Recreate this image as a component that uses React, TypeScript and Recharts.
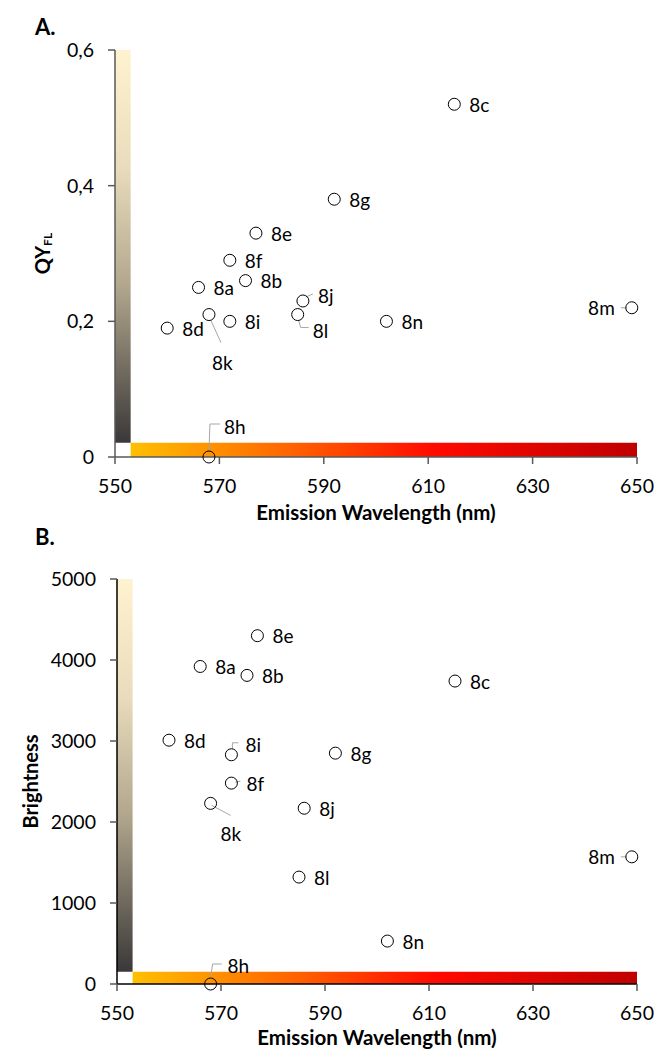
import React from "react";
import {
  ScatterChart,
  Scatter,
  XAxis,
  YAxis,
  ReferenceArea,
  Label,
} from "recharts";

// compounds, same order in both panels
const NAMES = ["8a", "8b", "8c", "8d", "8e", "8f", "8g", "8h", "8i", "8j", "8k", "8l", "8m", "8n"];
const WAVELENGTH = [566, 575, 615, 560, 577, 572, 592, 568, 572, 586, 568, 585, 649, 602];
const QY = [0.25, 0.26, 0.52, 0.19, 0.33, 0.29, 0.38, 0, 0.2, 0.23, 0.21, 0.21, 0.22, 0.2];
const BRIGHTNESS = [3920, 3810, 3740, 3010, 4300, 2480, 2850, 0, 2830, 2170, 2230, 1320, 1570, 530];

const X_TICKS = [550, 570, 590, 610, 630, 650];
const QY_TICKS = [0, 0.2, 0.4, 0.6];
const BRIGHT_TICKS = [0, 1000, 2000, 3000, 4000, 5000];

const FONT = "Lato, 'Open Sans', sans-serif";
const AXIS_COLOR = "#595959";
const LEADER_COLOR = "#a6a6a6";

type Placement = {
  dx: number;
  dy: number;
  anchor?: "start" | "end";
  leader?: number[][];
};

// label placement relative to the point (pixels)
const DEFAULT_PLACE: Placement = { dx: 15, dy: 0 };
const PLACE_A: Record<string, Placement> = {
  "8k": { dx: 3, dy: 48, leader: [[2, 6], [12, 28]] },
  "8j": { dx: 15, dy: -5, leader: [[3, -4], [10, -7]] },
  "8l": { dx: 15, dy: 16, leader: [[1, 6], [3, 13], [11, 13]] },
  "8h": { dx: 15, dy: -31, leader: [[0, -6], [1, -33], [11, -33]] },
  "8m": { dx: -17, dy: 0, anchor: "end", leader: [[-11, 0], [-5, 0]] },
};
const PLACE_B: Record<string, Placement> = {
  "8i": { dx: 14, dy: -10, leader: [[1, -6], [1, -12], [7, -12]] },
  "8f": { dx: 15, dy: 0, leader: [[4, -1], [9, -2]] },
  "8k": { dx: 10, dy: 30, leader: [[1, 2], [20, 12]] },
  "8h": { dx: 17, dy: -19, leader: [[0, -6], [2, -20], [11, -20]] },
  "8m": { dx: -17, dy: 0, anchor: "end", leader: [[-11, 0], [-5, 0]] },
};

const dataA = NAMES.map((name, i) => ({ name, x: WAVELENGTH[i], y: QY[i] }));
const dataB = NAMES.map((name, i) => ({ name, x: WAVELENGTH[i], y: BRIGHTNESS[i] }));

const tickStyle = { fontFamily: FONT, fontSize: 19.5, fill: "#000" };

const makeShape = (places: Record<string, Placement>) => (props: any) => {
  const { cx, cy } = props;
  const name = props.payload?.name ?? props.name;
  const p = places[name] || DEFAULT_PLACE;
  return (
    <g>
      {p.leader && (
        <polyline
          points={p.leader.map(([a, b]) => `${cx + a},${cy + b}`).join(" ")}
          fill="none"
          stroke={LEADER_COLOR}
          strokeWidth={1}
        />
      )}
      <circle cx={cx} cy={cy} r={6} fill="none" stroke="#000" strokeWidth={1} />
      <text
        x={cx + p.dx}
        y={cy + p.dy}
        textAnchor={p.anchor || "start"}
        dominantBaseline="central"
        fontFamily={FONT}
        fontSize={19}
        fill="#000"
      >
        {name}
      </text>
    </g>
  );
};

const xTitle = (offset: number) => (props: any) => {
  const vb = props.viewBox || { x: 115, y: 457, width: 522 };
  return (
    <text
      x={vb.x + vb.width / 2}
      y={vb.y + offset}
      textAnchor="middle"
      dominantBaseline="central"
      fontFamily={FONT}
      fontSize={20.5}
      fontWeight={700}
      fill="#000"
    >
      Emission Wavelength (nm)
    </text>
  );
};

const qyTitle = (props: any) => {
  const vb = props.viewBox || { y: 50, height: 407 };
  const x = 42;
  const y = vb.y + vb.height / 2;
  return (
    <text
      x={x}
      y={y}
      transform={`rotate(-90 ${x} ${y})`}
      textAnchor="middle"
      dominantBaseline="central"
      fontFamily={FONT}
      fontSize={20}
      fontWeight={700}
      fill="#000"
    >
      QY
      <tspan fontSize={12} dy={5}>
        FL
      </tspan>
    </text>
  );
};

const brightTitle = (props: any) => {
  const vb = props.viewBox || { y: 54, height: 405 };
  const x = 30;
  const y = vb.y + vb.height / 2;
  return (
    <text
      x={x}
      y={y}
      transform={`rotate(-90 ${x} ${y})`}
      textAnchor="middle"
      dominantBaseline="central"
      fontFamily={FONT}
      fontSize={20}
      fontWeight={700}
      fill="#000"
    >
      Brightness
    </text>
  );
};

const fmtQY = (v: number) => (v === 0 ? "0" : v.toFixed(1).replace(".", ","));

// colour bars along the axes
const BAR_X_END = 553;
const BAR_QY = 0.021;
const BAR_BRIGHT = 150;

const panelLetter: React.CSSProperties = {
  position: "absolute",
  left: 35,
  fontFamily: FONT,
  fontSize: 22,
  fontWeight: 700,
  lineHeight: "22px",
};

export default function App() {
  return (
    <div
      style={{
        position: "absolute",
        left: 0,
        top: 0,
        width: 654,
        height: 1050,
        background: "#fff",
        overflow: "hidden",
      }}
    >
      <svg width={0} height={0} style={{ position: "absolute" }}>
        <defs>
          <linearGradient id="gradV" x1="0" y1="0" x2="0" y2="1">
            <stop offset="0%" stopColor="#fff2cf" />
            <stop offset="30%" stopColor="#e8dcbc" />
            <stop offset="60%" stopColor="#b2a78d" />
            <stop offset="100%" stopColor="#3a3838" />
          </linearGradient>
          <linearGradient id="gradH" x1="0" y1="0" x2="1" y2="0">
            <stop offset="0%" stopColor="#ffc000" />
            <stop offset="35%" stopColor="#ff5a00" />
            <stop offset="60%" stopColor="#ff0a00" />
            <stop offset="100%" stopColor="#bf0000" />
          </linearGradient>
        </defs>
      </svg>

      <div style={{ ...panelLetter, top: 16 }}>A.</div>
      <ScatterChart
        width={654}
        height={525}
        margin={{ top: 50, right: 17, bottom: 28, left: 0 }}
      >
        <ReferenceArea
          x1={550}
          x2={BAR_X_END}
          y1={BAR_QY}
          y2={0.6}
          fill="url(#gradV)"
          fillOpacity={1}
          stroke="none"
        />
        <ReferenceArea
          x1={BAR_X_END}
          x2={650}
          y1={0}
          y2={BAR_QY}
          fill="url(#gradH)"
          fillOpacity={1}
          stroke="none"
        />
        <XAxis
          type="number"
          dataKey="x"
          domain={[550, 650]}
          ticks={X_TICKS}
          height={40}
          tickSize={7}
          tickMargin={15}
          tick={tickStyle}
          axisLine={{ stroke: AXIS_COLOR, strokeWidth: 1.5 }}
          tickLine={{ stroke: AXIS_COLOR, strokeWidth: 1.5 }}
        >
          <Label content={xTitle(55)} />
        </XAxis>
        <YAxis
          type="number"
          dataKey="y"
          domain={[0, 0.6]}
          ticks={QY_TICKS}
          width={115}
          tickSize={7}
          tickMargin={14}
          tick={tickStyle}
          tickFormatter={fmtQY}
          axisLine={{ stroke: AXIS_COLOR, strokeWidth: 1.5 }}
          tickLine={{ stroke: AXIS_COLOR, strokeWidth: 1.5 }}
        >
          <Label content={qyTitle} />
        </YAxis>
        <Scatter data={dataA} shape={makeShape(PLACE_A)} isAnimationActive={false} />
      </ScatterChart>

      <div style={{ ...panelLetter, top: 526 }}>B.</div>
      <ScatterChart
        width={654}
        height={525}
        margin={{ top: 54, right: 17, bottom: 26, left: 0 }}
      >
        <ReferenceArea
          x1={550}
          x2={BAR_X_END}
          y1={BAR_BRIGHT}
          y2={5000}
          fill="url(#gradV)"
          fillOpacity={1}
          stroke="none"
        />
        <ReferenceArea
          x1={BAR_X_END}
          x2={650}
          y1={0}
          y2={BAR_BRIGHT}
          fill="url(#gradH)"
          fillOpacity={1}
          stroke="none"
        />
        <XAxis
          type="number"
          dataKey="x"
          domain={[550, 650]}
          ticks={X_TICKS}
          height={40}
          tickSize={7}
          tickMargin={15}
          tick={tickStyle}
          axisLine={{ stroke: "#000", strokeWidth: 1.5 }}
          tickLine={{ stroke: AXIS_COLOR, strokeWidth: 1.5 }}
        >
          <Label content={xTitle(53)} />
        </XAxis>
        <YAxis
          type="number"
          dataKey="y"
          domain={[0, 5000]}
          ticks={BRIGHT_TICKS}
          width={117}
          tickSize={7}
          tickMargin={14}
          tick={tickStyle}
          axisLine={{ stroke: "#000", strokeWidth: 1.5 }}
          tickLine={{ stroke: AXIS_COLOR, strokeWidth: 1.5 }}
        >
          <Label content={brightTitle} />
        </YAxis>
        <Scatter data={dataB} shape={makeShape(PLACE_B)} isAnimationActive={false} />
      </ScatterChart>
    </div>
  );
}
